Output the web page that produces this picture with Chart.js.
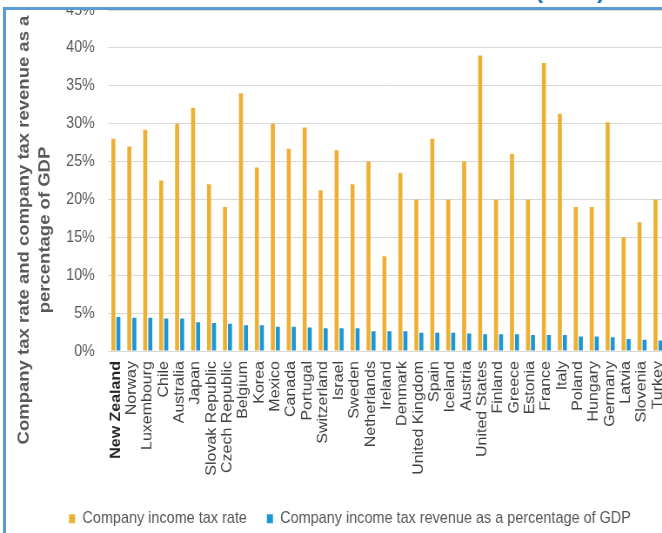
<!DOCTYPE html>
<html>
<head>
<meta charset="utf-8">
<script src="https://cdn.jsdelivr.net/npm/chart.js@4.4.1/dist/chart.umd.min.js"></script>
<style>
  html, body { margin: 0; padding: 0; background: #fff; }
  #page { position: relative; width: 662px; height: 533px; overflow: hidden; background: #fff; }
  #tag { position: absolute; left: 535px; top: -22px; font: bold 24px 'Liberation Sans', Arial, sans-serif;
         line-height: 24px; color: #1f78c8; white-space: pre; }
  #frame { position: absolute; left: 3px; top: 7px; width: 720px; height: 600px;
           border-left: 3px solid #5b9bd5; border-top: 3px solid #5b9bd5; overflow: hidden; }
  /* the chart is shown slightly condensed horizontally */
  #holder { position: absolute; left: -6px; top: -40px; transform: scaleX(0.87); transform-origin: 0 0; }
</style>
</head>
<body>
<div id="page">
  <div id="tag">(<span style="display:inline-block;width:54px"></span>)</div>
  <div id="frame"><div id="holder"><canvas id="chart" width="805" height="567"></canvas></div></div>
</div>
<script>
// OECD countries, ordered by company income tax revenue
const countries = [
  'New Zealand', 'Norway', 'Luxembourg', 'Chile', 'Australia', 'Japan', 'Slovak Republic',
  'Czech Republic', 'Belgium', 'Korea', 'Mexico', 'Canada', 'Portugal', 'Switzerland',
  'Israel', 'Sweden', 'Netherlands', 'Ireland', 'Denmark', 'United Kingdom', 'Spain',
  'Iceland', 'Austria', 'United States', 'Finland', 'Greece', 'Estonia', 'France', 'Italy',
  'Poland', 'Hungary', 'Germany', 'Latvia', 'Slovenia', 'Turkey'
];

// Statutory company income tax rate (%)
const taxRate = [
  28, 27, 29.2, 22.5, 30, 32.1, 22, 19, 34, 24.2, 30, 26.7, 29.5, 21.2,
  26.5, 22, 25, 12.5, 23.5, 20, 28, 20, 25, 39, 20, 26, 20, 38, 31.3,
  19, 19, 30.2, 15, 17, 20
];

// Company income tax revenue as a share of GDP (%)
const taxRevenue = [
  4.5, 4.4, 4.4, 4.3, 4.3, 3.8, 3.7, 3.6, 3.4, 3.4, 3.2, 3.2, 3.1, 3.0,
  3.0, 3.0, 2.6, 2.6, 2.6, 2.4, 2.4, 2.4, 2.3, 2.2, 2.2, 2.2, 2.1, 2.1, 2.1,
  1.9, 1.9, 1.8, 1.6, 1.5, 1.4
];

const yTicks = [0, 5, 10, 15, 20, 25, 30, 35, 40, 45];
const seriesNames = ['Company income tax rate', 'Company income tax revenue as a percentage of GDP'];
const axisTitle = ['Company tax rate and company tax revenue as a', 'percentage of GDP'];

const FONT = "'Liberation Sans', Arial, sans-serif";

// Two-line rotated title on the left of the value axis
const axisTitlePlugin = {
  id: 'axisTitle',
  afterDraw(chart) {
    const ctx = chart.ctx;
    ctx.save();
    ctx.fillStyle = '#595959';
    ctx.font = 'bold 18.5px ' + FONT;
    ctx.textAlign = 'center';
    ctx.textBaseline = 'middle';
    const cy = 260;
    const xs = [27.5, 51.5];
    axisTitle.forEach((line, i) => {
      ctx.save();
      ctx.translate(xs[i], cy);
      ctx.rotate(-Math.PI / 2);
      ctx.fillText(line, 0, 0);
      ctx.restore();
    });
    ctx.restore();
  }
};

new Chart(document.getElementById('chart'), {
  type: 'bar',
  data: {
    labels: countries,
    datasets: [
      { label: seriesNames[0], data: taxRate, backgroundColor: '#edb033',
        categoryPercentage: 0.63, barPercentage: 0.8 },
      { label: seriesNames[1], data: taxRevenue, backgroundColor: '#1d97d2',
        categoryPercentage: 0.63, barPercentage: 0.8 }
    ]
  },
  options: {
    responsive: false,
    animation: false,
    devicePixelRatio: 1,
    layout: { padding: { left: 39, right: 39.5, top: 40, bottom: 0 } },
    plugins: {
      legend: {
        position: 'bottom',
        labels: {
          boxWidth: 7, boxHeight: 9, padding: 23, color: '#555555',
          font: { family: FONT, size: 16.6 }
        }
      },
      tooltip: { enabled: false }
    },
    scales: {
      x: {
        grid: { display: false, drawTicks: false },
        border: { display: false },
        ticks: {
          autoSkip: false, maxRotation: 90, minRotation: 90, padding: 10,
          color: (c) => c.index === 0 ? '#262626' : '#404040',
          font: (c) => ({ family: FONT, size: 16, weight: c.index === 0 ? 'bold' : 'normal' })
        },
        afterFit: (s) => { s.height = 136.4; }
      },
      y: {
        min: 0, max: 45,
        grid: { color: '#d9d9d9', drawTicks: false },
        border: { display: false },
        afterBuildTicks: (s) => { s.ticks = yTicks.map(v => ({ value: v })); },
        ticks: {
          padding: 15, color: '#595959',
          font: { family: FONT, size: 16.5 },
          callback: (v) => v + '%'
        },
        afterFit: (s) => { s.width = 85; }
      }
    }
  },
  plugins: [axisTitlePlugin]
});
</script>
</body>
</html>
